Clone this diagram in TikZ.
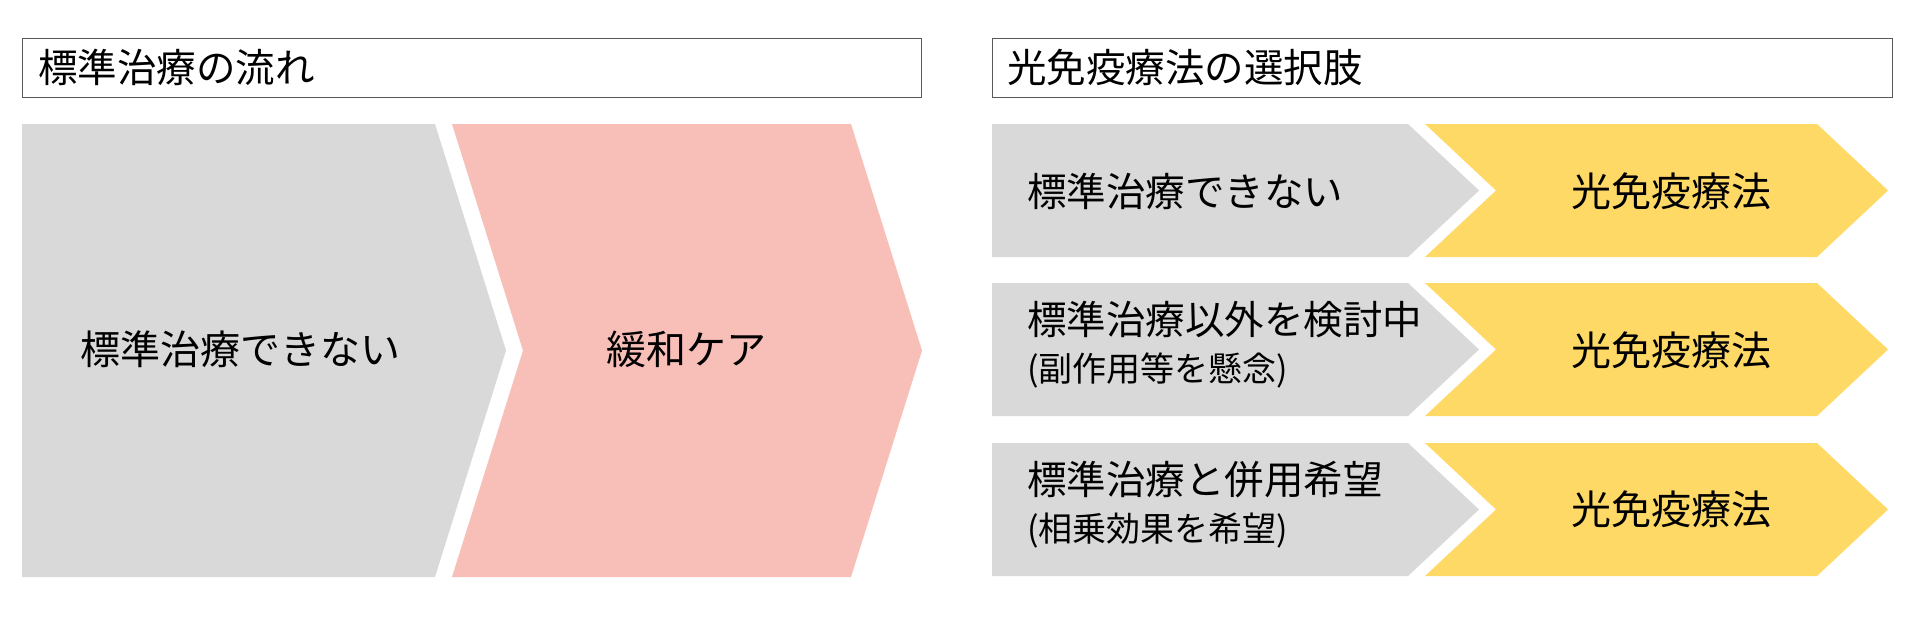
\documentclass[tikz,border=0pt]{standalone}
\usepackage{fontspec}
\setmainfont{Noto Sans CJK JP}
\definecolor{boxgray}{HTML}{D9D9D9}
\definecolor{boxpink}{HTML}{F8BFB8}
\definecolor{boxyellow}{HTML}{FFD966}
\definecolor{hdrline}{HTML}{595959}
\begin{document}
\begin{tikzpicture}[x=1pt,y=-1pt,
  hdrbox/.style={draw=hdrline, line width=1.1pt, fill=white, anchor=north west,
    minimum width=899pt, minimum height=59pt, inner sep=0pt},
  hdrtext/.style={anchor=west, inner sep=0pt, font=\fontsize{39.5}{46}\selectfont},
  bigtext/.style={inner sep=0pt, font=\fontsize{40}{48}\selectfont},
  rowtext/.style={anchor=west, inner sep=0pt, align=left, font=\fontsize{39.5}{47}\selectfont},
  yeltext/.style={inner sep=0pt, font=\fontsize{40}{48}\selectfont}]
\useasboundingbox (0,0) rectangle (1920,633);
\fill[white] (0,0) rectangle (1920,633);

% headers
\node[hdrbox] (h1) at (22,38) {};
\node[hdrtext] (h1t) at (38,67.5) {標準治療の流れ};
\node[hdrbox, minimum width=900pt] (h2) at (992,38) {};
\node[hdrtext] (h2t) at (1007,67.5) {光免疫療法の選択肢};

% left flow
\fill[boxgray] (22,124) -- (435,124) -- (506,350.5) -- (435,577) -- (22,577) -- cycle;
\fill[boxpink] (452,124) -- (851,124) -- (922,350.5) -- (851,577) -- (452,577) -- (523,350.5) -- cycle;
\node[bigtext] (l1) at (240,349) {標準治療できない};
\node[bigtext] (l2) at (686,349) {緩和ケア};

% right rows
\foreach \t in {124,283,443}{
  \fill[boxgray] (992,\t) -- (1408,\t) -- (1479,\t+66.5) -- (1408,\t+133) -- (992,\t+133) -- cycle;
  \fill[boxyellow] (1425,\t) -- (1817,\t) -- (1888,\t+66.5) -- (1817,\t+133) -- (1425,\t+133) -- (1496,\t+66.5) -- cycle;
}
\node[rowtext] (r1) at (1027,191) {標準治療できない};
\node[rowtext] (r2) at (1027,345) {標準治療以外を検討中\\{\fontsize{34}{47}\selectfont (副作用等を懸念)}};
\node[rowtext] (r3) at (1027,505) {標準治療と併用希望\\{\fontsize{34}{47}\selectfont (相乗効果を希望)}};
\node[yeltext] (y1) at (1671,191) {光免疫療法};
\node[yeltext] (y2) at (1671,350) {光免疫療法};
\node[yeltext] (y3) at (1671,509) {光免疫療法};
\end{tikzpicture}
\end{document}
